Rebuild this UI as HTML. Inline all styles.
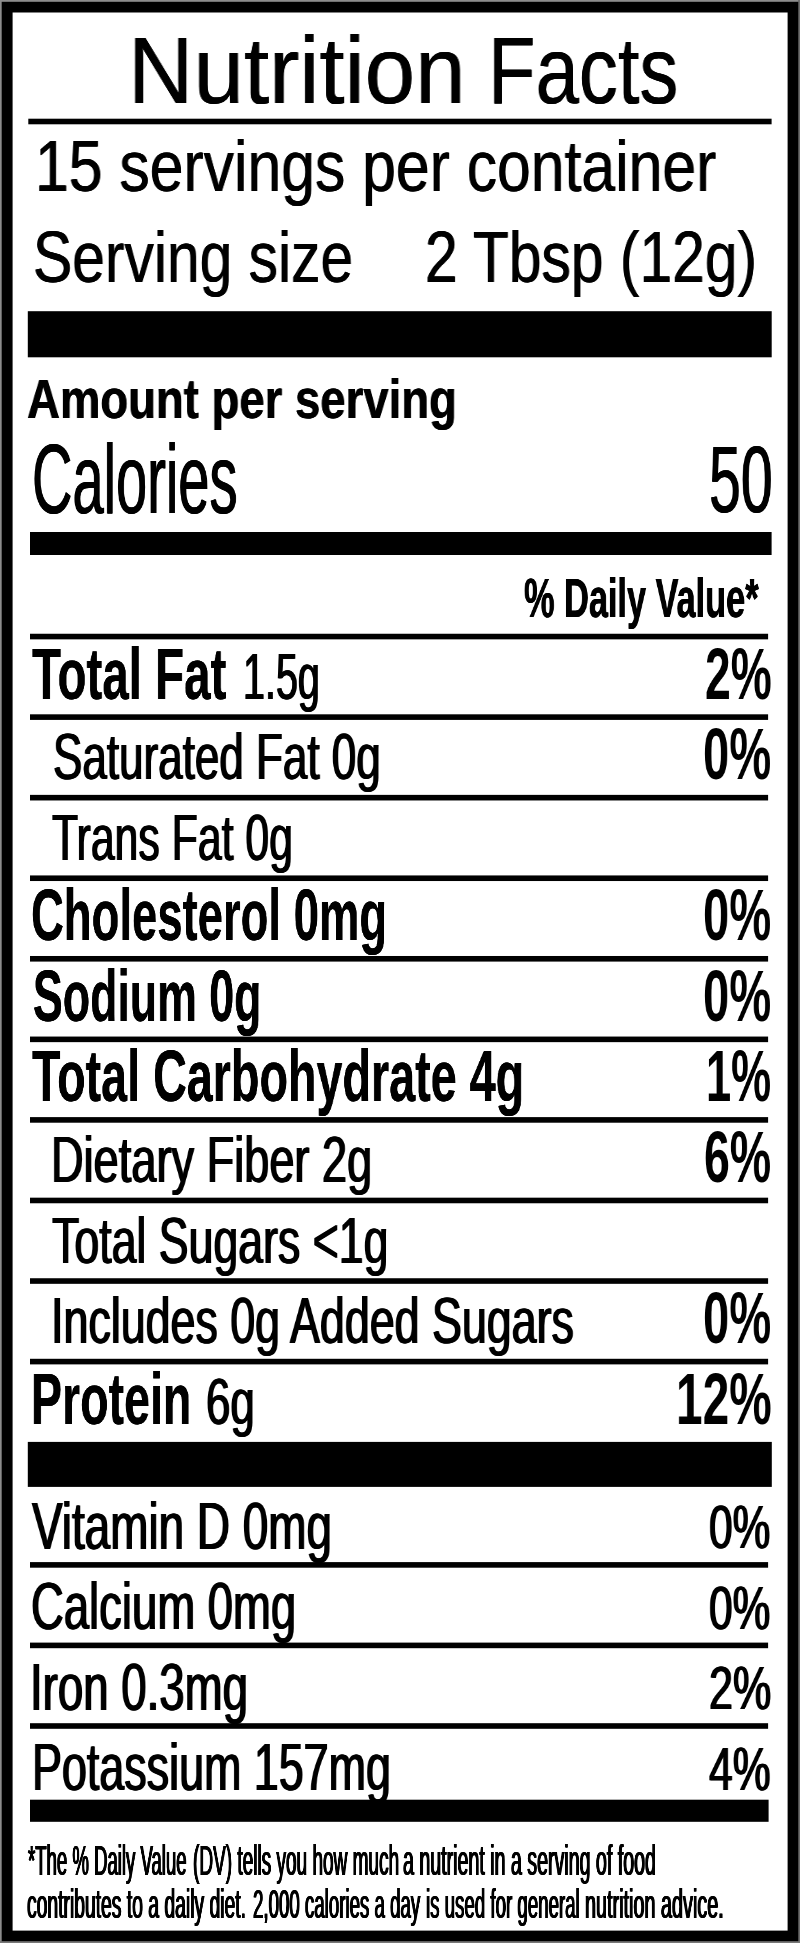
<!DOCTYPE html>
<html lang="en">
<head>
<meta charset="utf-8">
<title>Nutrition Facts</title>
<style>
html,body{margin:0;padding:0;background:#fff;}
body{width:800px;height:1943px;position:relative;overflow:hidden;font-family:"Liberation Sans",sans-serif;color:#000;}
#label{position:absolute;left:0;top:0;width:800px;height:1943px;filter:blur(0.6px);}
#frame{position:absolute;left:-10px;top:-10px;width:820px;height:1963px;}
.t{will-change:transform;position:absolute;white-space:nowrap;line-height:1;transform-origin:0 0;font-weight:400;margin:0;padding:0;}
.b{font-weight:700;}
</style>
</head>
<body>
<div id="label">
<svg id="frame" width="820" height="1963" viewBox="-10 -10 820 1963">
<rect x="-10" y="-10" width="820" height="1963" fill="#8c8c8c"/>
<rect x="798" y="-10" width="12" height="1963" fill="#6e6e6e"/>
<rect x="-10" y="1941" width="820" height="12" fill="#787878"/>
<rect x="1.7" y="1.8" width="796.6" height="1939.4" fill="#000"/>
<rect x="12.6" y="12.5" width="775" height="1918.1" fill="#fff"/>
<rect x="28.30" y="118.70" width="743.30" height="5.60" fill="#000"/>
<rect x="27.80" y="311.20" width="743.90" height="46.10" fill="#000"/>
<rect x="30.00" y="532.00" width="741.60" height="23.00" fill="#000"/>
<rect x="30.00" y="633.75" width="738.10" height="5.60" fill="#000"/>
<rect x="30.00" y="714.31" width="738.10" height="5.60" fill="#000"/>
<rect x="30.00" y="794.87" width="738.10" height="5.60" fill="#000"/>
<rect x="30.00" y="875.43" width="738.10" height="5.60" fill="#000"/>
<rect x="30.00" y="955.99" width="738.10" height="5.60" fill="#000"/>
<rect x="30.00" y="1036.55" width="738.10" height="5.60" fill="#000"/>
<rect x="30.00" y="1117.11" width="738.10" height="5.60" fill="#000"/>
<rect x="30.00" y="1197.67" width="738.10" height="5.60" fill="#000"/>
<rect x="30.00" y="1278.23" width="738.10" height="5.60" fill="#000"/>
<rect x="30.00" y="1358.79" width="738.10" height="5.60" fill="#000"/>
<rect x="27.80" y="1441.90" width="744.00" height="45.00" fill="#000"/>
<rect x="30.00" y="1562.10" width="738.10" height="5.60" fill="#000"/>
<rect x="30.00" y="1642.60" width="738.10" height="5.60" fill="#000"/>
<rect x="30.00" y="1723.20" width="738.10" height="5.60" fill="#000"/>
<rect x="30.00" y="1799.70" width="738.60" height="22.10" fill="#000"/>
</svg>
<div class="t" style="left:128.41px;top:22.70px;font-size:95.2px;transform:scaleX(0.9523);text-shadow:0.30px 0 0 #000,-0.30px 0 0 #000;">Nutrition</div>
<div class="t" style="left:488.32px;top:22.70px;font-size:95.2px;transform:scaleX(0.8178);text-shadow:0.30px 0 0 #000,-0.30px 0 0 #000;">Facts</div>
<div class="t" style="left:34.54px;top:130.86px;font-size:71.5px;transform:scaleX(0.8486);text-shadow:0.40px 0 0 #000,-0.40px 0 0 #000;">15 servings per container</div>
<div class="t" style="left:32.68px;top:221.34px;font-size:72.0px;transform:scaleX(0.8162);text-shadow:0.40px 0 0 #000,-0.40px 0 0 #000;">Serving size</div>
<div class="t" style="left:424.89px;top:221.34px;font-size:72.0px;transform:scaleX(0.8159);text-shadow:0.40px 0 0 #000,-0.40px 0 0 #000;">2 Tbsp (12g)</div>
<div class="t b" style="left:27.29px;top:370.76px;font-size:55.8px;transform:scaleX(0.8156);text-shadow:0.40px 0 0 #000,-0.40px 0 0 #000;">Amount per serving</div>
<div class="t" style="left:32.05px;top:428.68px;font-size:99.0px;transform:scaleX(0.5659);text-shadow:0.80px 0 0 #000,-0.80px 0 0 #000;">Calories</div>
<div class="t" style="left:709.19px;top:432.07px;font-size:95.0px;transform:scaleX(0.6019);text-shadow:0.80px 0 0 #000,-0.80px 0 0 #000;">50</div>
<div class="t b" style="left:523.85px;top:570.59px;font-size:55.4px;transform:scaleX(0.6194);text-shadow:0.50px 0 0 #000,-0.50px 0 0 #000;">% Daily Value*</div>
<div class="t b" style="left:31.87px;top:636.59px;font-size:73.0px;transform:scaleX(0.6504);text-shadow:0.15px 0 0 #000,-0.15px 0 0 #000;">Total Fat</div>
<div class="t" style="left:242.64px;top:644.14px;font-size:65.5px;transform:scaleX(0.6022);text-shadow:1.00px 0 0 #000,-1.00px 0 0 #000;">1.5g</div>
<div class="t b" style="left:704.64px;top:638.51px;font-size:71.8px;transform:scaleX(0.6422);">2%</div>
<div class="t" style="left:53.09px;top:724.30px;font-size:65.5px;transform:scaleX(0.6717);text-shadow:1.00px 0 0 #000,-1.00px 0 0 #000;">Saturated Fat 0g</div>
<div class="t b" style="left:703.11px;top:719.07px;font-size:71.8px;transform:scaleX(0.6572);">0%</div>
<div class="t" style="left:52.19px;top:804.86px;font-size:65.5px;transform:scaleX(0.6531);text-shadow:1.00px 0 0 #000,-1.00px 0 0 #000;">Trans Fat 0g</div>
<div class="t b" style="left:31.28px;top:878.27px;font-size:73.0px;transform:scaleX(0.6226);text-shadow:0.15px 0 0 #000,-0.15px 0 0 #000;">Cholesterol 0mg</div>
<div class="t b" style="left:703.11px;top:880.19px;font-size:71.8px;transform:scaleX(0.6572);">0%</div>
<div class="t b" style="left:32.75px;top:958.83px;font-size:73.0px;transform:scaleX(0.6122);text-shadow:0.15px 0 0 #000,-0.15px 0 0 #000;">Sodium 0g</div>
<div class="t b" style="left:703.11px;top:960.75px;font-size:71.8px;transform:scaleX(0.6572);">0%</div>
<div class="t b" style="left:31.88px;top:1039.39px;font-size:73.0px;transform:scaleX(0.6397);text-shadow:0.15px 0 0 #000,-0.15px 0 0 #000;">Total Carbohydrate 4g</div>
<div class="t b" style="left:706.19px;top:1041.31px;font-size:71.8px;transform:scaleX(0.6270);">1%</div>
<div class="t" style="left:50.96px;top:1127.10px;font-size:65.5px;transform:scaleX(0.6894);text-shadow:1.00px 0 0 #000,-1.00px 0 0 #000;">Dietary Fiber 2g</div>
<div class="t b" style="left:704.26px;top:1121.87px;font-size:71.8px;transform:scaleX(0.6459);">6%</div>
<div class="t" style="left:52.18px;top:1207.66px;font-size:65.5px;transform:scaleX(0.6819);text-shadow:1.00px 0 0 #000,-1.00px 0 0 #000;">Total Sugars &lt;1g</div>
<div class="t" style="left:50.54px;top:1288.22px;font-size:65.5px;transform:scaleX(0.6837);text-shadow:1.00px 0 0 #000,-1.00px 0 0 #000;">Includes 0g Added Sugars</div>
<div class="t b" style="left:703.11px;top:1282.99px;font-size:71.8px;transform:scaleX(0.6572);">0%</div>
<div class="t b" style="left:31.35px;top:1361.63px;font-size:73.0px;transform:scaleX(0.6376);text-shadow:0.15px 0 0 #000,-0.15px 0 0 #000;">Protein</div>
<div class="t" style="left:205.98px;top:1369.18px;font-size:65.5px;transform:scaleX(0.6683);text-shadow:1.00px 0 0 #000,-1.00px 0 0 #000;">6g</div>
<div class="t b" style="left:675.51px;top:1363.55px;font-size:71.8px;transform:scaleX(0.6663);">12%</div>
<div class="t" style="left:32.37px;top:1492.62px;font-size:66.0px;transform:scaleX(0.6948);text-shadow:1.00px 0 0 #000,-1.00px 0 0 #000;">Vitamin D 0mg</div>
<div class="t" style="left:709.49px;top:1496.01px;font-size:62.0px;transform:scaleX(0.6844);text-shadow:1.00px 0 0 #000,-1.00px 0 0 #000;">0%</div>
<div class="t" style="left:31.42px;top:1573.12px;font-size:66.0px;transform:scaleX(0.6882);text-shadow:1.00px 0 0 #000,-1.00px 0 0 #000;">Calcium 0mg</div>
<div class="t" style="left:709.49px;top:1576.51px;font-size:62.0px;transform:scaleX(0.6844);text-shadow:1.00px 0 0 #000,-1.00px 0 0 #000;">0%</div>
<div class="t" style="left:30.47px;top:1653.62px;font-size:66.0px;transform:scaleX(0.6910);text-shadow:1.00px 0 0 #000,-1.00px 0 0 #000;">Iron 0.3mg</div>
<div class="t" style="left:708.54px;top:1657.01px;font-size:62.0px;transform:scaleX(0.6951);text-shadow:1.00px 0 0 #000,-1.00px 0 0 #000;">2%</div>
<div class="t" style="left:31.98px;top:1734.12px;font-size:66.0px;transform:scaleX(0.6794);text-shadow:1.00px 0 0 #000,-1.00px 0 0 #000;">Potassium 157mg</div>
<div class="t" style="left:709.23px;top:1737.51px;font-size:62.0px;transform:scaleX(0.6873);text-shadow:1.00px 0 0 #000,-1.00px 0 0 #000;">4%</div>
<div class="t" style="left:27.70px;top:1839.69px;font-size:42.3px;transform:scaleX(0.4389);text-shadow:1.20px 0 0 #000,-1.20px 0 0 #000;">*The % Daily Value</div>
<div class="t" style="left:192.85px;top:1839.69px;font-size:42.3px;transform:scaleX(0.4497);text-shadow:1.20px 0 0 #000,-1.20px 0 0 #000;">(DV) tells you how much</div>
<div class="t" style="left:403.47px;top:1839.69px;font-size:42.3px;transform:scaleX(0.4636);text-shadow:1.20px 0 0 #000,-1.20px 0 0 #000;">a nutrient in a serving of food</div>
<div class="t" style="left:27.49px;top:1883.59px;font-size:41.0px;transform:scaleX(0.4709);text-shadow:1.20px 0 0 #000,-1.20px 0 0 #000;">contributes to a daily diet.</div>
<div class="t" style="left:253.11px;top:1883.59px;font-size:41.0px;transform:scaleX(0.4555);text-shadow:1.20px 0 0 #000,-1.20px 0 0 #000;">2,000 calories a day</div>
<div class="t" style="left:426.04px;top:1883.59px;font-size:41.0px;transform:scaleX(0.4556);text-shadow:1.20px 0 0 #000,-1.20px 0 0 #000;">is used for general</div>
<div class="t" style="left:585.24px;top:1883.59px;font-size:41.0px;transform:scaleX(0.4830);text-shadow:1.20px 0 0 #000,-1.20px 0 0 #000;">nutrition advice.</div>
</div>
</body>
</html>
